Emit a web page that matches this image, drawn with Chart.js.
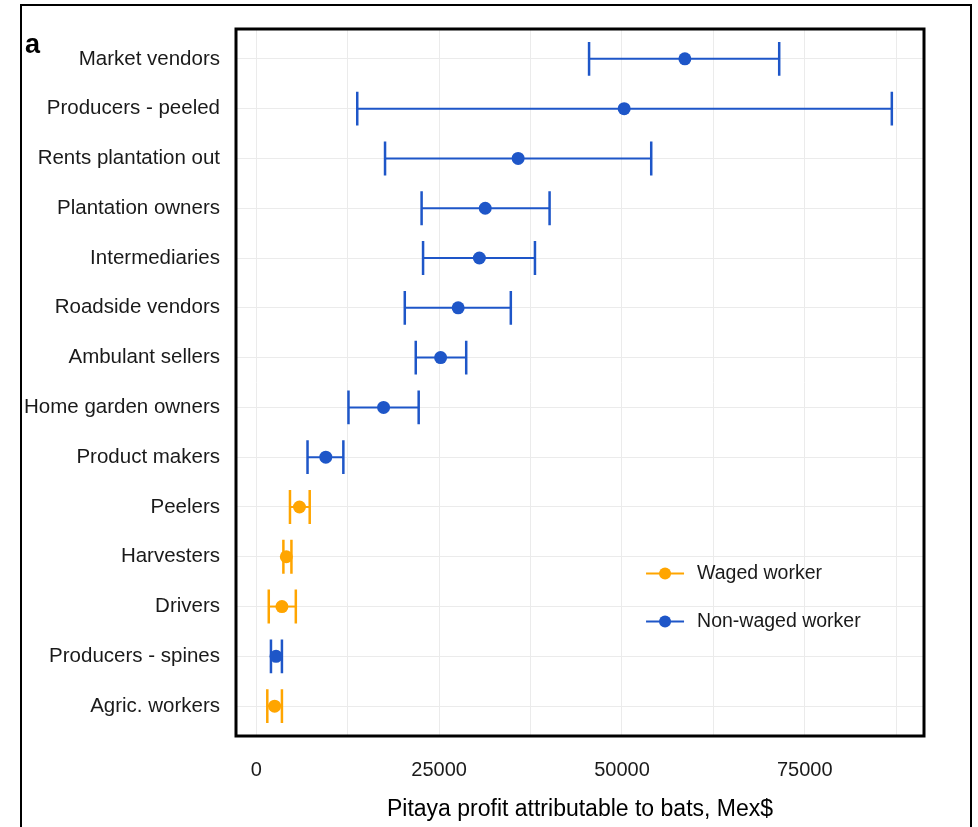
<!DOCTYPE html>
<html>
<head>
<meta charset="utf-8">
<script src="https://cdn.jsdelivr.net/npm/chart.js@4.4.1/dist/chart.umd.min.js"></script>
<style>
  html, body { margin: 0; padding: 0; background: #fff; overflow: hidden; }
  #wrap { position: relative; width: 978px; height: 827px; }
  #frame { position: absolute; left: 20px; top: 4px; width: 948px; height: 900px;
           border: 2px solid #000; pointer-events: none; }
  #panelTag { position: absolute; left: 25px; top: 29px; font: bold 27px "Liberation Sans", Arial, sans-serif; color: #000; }
</style>
</head>
<body>
<div id="wrap">
  <canvas id="dataChart"></canvas>
  <div id="frame"></div>
  <div id="panelTag">a</div>
</div>
<script>
// categories, top to bottom
var categories = [
  'Market vendors', 'Producers - peeled', 'Rents plantation out', 'Plantation owners',
  'Intermediaries', 'Roadside vendors', 'Ambulant sellers', 'Home garden owners',
  'Product makers', 'Peelers', 'Harvesters', 'Drivers', 'Producers - spines', 'Agric. workers'
];
// profit attributable to bats (Mex$), with lower / upper bounds
var meanProfit = [58600, 50300, 35800, 31300, 30500, 27600, 25200, 17400, 9500, 5900, 4100, 3500, 2700, 2500];
var lowerBound = [45500, 13800, 17600, 22600, 22800, 20300, 21800, 12600, 7000, 4600, 3700, 1700, 2000, 1500];
var upperBound = [71500, 86900, 54000, 40100, 38100, 34800, 28700, 22200, 11900, 7300, 4800, 5400, 3500, 3500];
// W = waged worker, N = non-waged worker
var workerType = ['N', 'N', 'N', 'N', 'N', 'N', 'N', 'N', 'N', 'W', 'W', 'W', 'N', 'W'];

var xTicks = [0, 12500, 25000, 37500, 50000, 62500, 75000, 87500];
var xLabelTicks = [0, 25000, 50000, 75000];

var seriesNames = ['Waged worker', 'Non-waged worker'];
var seriesCodes = ['W', 'N'];
var seriesColors = ['#FFA500', '#1E56C8'];

var fontFamily = '"Liberation Sans", Arial, sans-serif';

function buildDatasets() {
  return seriesCodes.map(function (code, k) {
    var pts = [];
    categories.forEach(function (c, i) {
      if (workerType[i] === code) {
        pts.push({ x: meanProfit[i], y: i, lo: lowerBound[i], hi: upperBound[i] });
      }
    });
    return {
      label: seriesNames[k],
      data: pts,
      backgroundColor: seriesColors[k],
      borderColor: seriesColors[k],
      pointRadius: 6.5,
      pointBorderWidth: 0,
      showLine: false
    };
  });
}

// error bars, drawn under the points
var errorBars = {
  id: 'errorBars',
  beforeDatasetsDraw: function (chart) {
    var ctx = chart.ctx, xs = chart.scales.x, ys = chart.scales.y;
    ctx.save();
    chart.data.datasets.forEach(function (ds) {
      ctx.strokeStyle = ds.borderColor;
      ds.data.forEach(function (p) {
        var x0 = xs.getPixelForValue(p.lo), x1 = xs.getPixelForValue(p.hi);
        var y = ys.getPixelForValue(p.y);
        var yt = ys.getPixelForValue(p.y - 0.34), yb = ys.getPixelForValue(p.y + 0.34);
        ctx.lineWidth = 2;
        ctx.beginPath(); ctx.moveTo(x0, y); ctx.lineTo(x1, y); ctx.stroke();
        ctx.lineWidth = 2.5;
        ctx.beginPath(); ctx.moveTo(x0, yt); ctx.lineTo(x0, yb);
        ctx.moveTo(x1, yt); ctx.lineTo(x1, yb); ctx.stroke();
      });
    });
    ctx.restore();
  },
  afterDatasetsDraw: function (chart) {
    var ctx = chart.ctx, a = chart.chartArea;
    ctx.save();
    // panel border
    ctx.strokeStyle = '#000';
    ctx.lineWidth = 3;
    ctx.strokeRect(a.left, a.top, a.right - a.left, a.bottom - a.top);
    // legend inside the panel
    var lx = a.left + (a.right - a.left) * 0.596;
    var ly = a.top + (a.bottom - a.top) * 0.77;
    seriesNames.forEach(function (name, k) {
      var y = ly + k * 48;
      ctx.strokeStyle = seriesColors[k];
      ctx.fillStyle = seriesColors[k];
      ctx.lineWidth = 2;
      ctx.beginPath(); ctx.moveTo(lx, y); ctx.lineTo(lx + 38, y); ctx.stroke();
      ctx.beginPath(); ctx.arc(lx + 19, y, 6, 0, Math.PI * 2); ctx.fill();
      ctx.fillStyle = '#1a1a1a';
      ctx.font = '19.5px ' + fontFamily;
      ctx.textBaseline = 'middle';
      ctx.fillText(name, lx + 51, y);
    });
    ctx.restore();
  }
};

var myChart = new Chart(document.getElementById('dataChart'), {
  type: 'scatter',
  data: { datasets: buildDatasets() },
  options: {
    responsive: true,
    maintainAspectRatio: false,
    animation: false,
    events: [],
    layout: { padding: { top: 29, right: 54, left: 0, bottom: 0 } },
    plugins: { legend: { display: false }, tooltip: { enabled: false } },
    scales: {
      x: {
        type: 'linear',
        min: -2780,
        max: 91300,
        afterBuildTicks: function (s) { s.ticks = xTicks.map(function (v) { return { value: v }; }); },
        afterFit: function (s) { s.height = 91; },
        grid: { color: '#ebebeb', lineWidth: 1, drawTicks: false },
        border: { display: false },
        ticks: {
          padding: 22,
          color: '#1a1a1a',
          font: { size: 20, family: fontFamily },
          maxRotation: 0,
          autoSkip: false,
          callback: function (v) { return xLabelTicks.indexOf(v) >= 0 ? String(v) : ''; }
        },
        title: {
          display: true,
          text: 'Pitaya profit attributable to bats, Mex$',
          color: '#000',
          font: { size: 23, family: fontFamily },
          padding: { top: 0, bottom: 4 }
        }
      },
      y: {
        type: 'linear',
        reverse: true,
        min: -0.6,
        max: 13.6,
        afterBuildTicks: function (s) { s.ticks = categories.map(function (c, i) { return { value: i }; }); },
        afterFit: function (s) { s.width = 236; },
        grid: { color: '#ebebeb', lineWidth: 1, drawTicks: false },
        border: { display: false },
        ticks: {
          padding: 16,
          color: '#1a1a1a',
          font: { size: 20.5, family: fontFamily },
          autoSkip: false,
          callback: function (v) { return categories[v]; }
        }
      }
    }
  },
  plugins: [errorBars]
});
</script>
</body>
</html>
